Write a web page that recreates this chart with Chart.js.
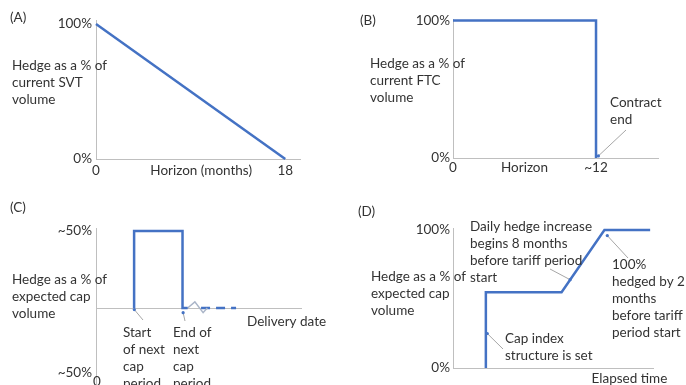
<!DOCTYPE html>
<html><head><meta charset="utf-8">
<script src="https://cdn.jsdelivr.net/npm/chart.js@4.4.1/dist/chart.umd.min.js"></script>
<style>
html,body{margin:0;padding:0;background:#fff;overflow:hidden;width:686px;height:385px}
#wrap{position:relative;width:686px;height:385px;overflow:hidden}
canvas{position:absolute}
</style></head><body>
<div id="wrap">
<canvas id="cA" width="343" height="192" style="left:0;top:0"></canvas>
<canvas id="cB" width="343" height="192" style="left:343px;top:0"></canvas>
<canvas id="cC" width="343" height="213" style="left:0;top:192px"></canvas>
<canvas id="cD" width="343" height="193" style="left:343px;top:192px"></canvas>
</div>
<script>
// ---------- data ----------
// (A) SVT hedge run-off
const aX = [0, 18];
const aY = [100, 0];
const aXTicks = [0, 10, 18];
const aXLabels = ['0', 'Horizon (months)', '18'];
const aYTicks = [0, 100];
const aYLabels = ['0%', '100%'];

// (B) FTC hedge
const bX = [0, 12, 12];
const bY = [100, 100, 0];
const bXTicks = [0, 6, 12];
const bXLabels = ['0', 'Horizon', '~12'];
const bYTicks = [0, 100];
const bYLabels = ['0%', '100%'];

// (C) cap period hedge
const cX = [18.5, 18.5, 42, 42, 44.5];
const cY = [0, 50, 50, 0, 0];
const cBreakX = [44.5, 48, 52, 54];
const cBreakY = [0, 4, -3, 0];
const cTailX = [51, 68];
const cTailY = [0, 0];
const cYTicks = [50, 0, -42];
const cYLabels = ['~50%', '', '~50%'];

// (D) cap hedge build-up
const dX = [4.6, 4.6, 15.2, 21.2, 27.6];
const dY = [0, 55, 55, 100, 100];
const dXTicks = [24.7];
const dXLabels = ['Elapsed time'];
const dYTicks = [0, 100];
const dYLabels = ['0%', '100%'];

// ---------- styling ----------
const BLUE = '#4472c4';
const GRAY = '#bfbfbf';
const TXT = '#333333';
const FAM = 'Lato, "Open Sans", sans-serif';
const FSIZE = 13.5;
const FONT = {family: FAM, size: FSIZE};

const pts = (xs, ys) => xs.map((x, i) => ({x: x, y: ys[i]}));

const notesPlugin = {
  id: 'notes',
  afterDraw(chart, args, opts) {
    const ctx = chart.ctx;
    const xs = chart.scales.x, ys = chart.scales.y;
    ctx.save();
    (opts.leaders || []).forEach(l => {
      const tx = xs.getPixelForValue(l.to[0]);
      const ty = ys.getPixelForValue(l.to[1]);
      ctx.strokeStyle = '#a6a6a6';
      ctx.lineWidth = 1;
      ctx.beginPath();
      ctx.moveTo(l.from[0], l.from[1]);
      ctx.lineTo(tx, ty);
      ctx.stroke();
      ctx.fillStyle = BLUE;
      ctx.beginPath();
      ctx.arc(tx, ty, 1.6, 0, Math.PI * 2);
      ctx.fill();
    });
    ctx.font = FSIZE + 'px ' + FAM;
    ctx.fillStyle = TXT;
    ctx.textBaseline = 'middle';
    (opts.texts || []).forEach(t => {
      ctx.textAlign = t.align || 'left';
      t.lines.forEach((s, i) => ctx.fillText(s, t.x, t.y + i * 17));
    });
    ctx.restore();
  }
};

function axis(cfg) {
  return {
    type: 'linear',
    display: cfg.display !== false,
    min: cfg.min, max: cfg.max,
    afterFit: s => { if (cfg.width != null) s.width = cfg.width; if (cfg.height != null) s.height = cfg.height; },
    afterBuildTicks: s => { s.ticks = cfg.ticks.map(v => ({value: v})); },
    ticks: {
      autoSkip: false, maxRotation: 0, minRotation: 0,
      padding: cfg.pad || 4, color: TXT, font: FONT,
      callback: v => { const i = cfg.ticks.indexOf(v); return i < 0 ? '' : cfg.labels[i]; }
    },
    grid: cfg.grid || {display: false, drawTicks: false},
    border: {display: cfg.border !== false, color: GRAY, width: 1}
  };
}

function line(data, extra) {
  return Object.assign({data: data, borderColor: BLUE, borderWidth: 2.5, pointRadius: 0,
    tension: 0, fill: false, clip: false, borderJoinStyle: 'miter'}, extra || {});
}

function make(id, datasets, scales, padding, notes) {
  return new Chart(document.getElementById(id), {
    type: 'line',
    data: {datasets: datasets},
    options: {
      responsive: false, animation: false, events: [],
      layout: {padding: padding},
      scales: scales,
      plugins: {legend: {display: false}, tooltip: {enabled: false}, notes: notes}
    },
    plugins: [notesPlugin]
  });
}

// (A)
make('cA', [line(pts(aX, aY))], {
  x: axis({min: 0, max: 19.4, ticks: aXTicks, labels: aXLabels, height: 33, pad: 4}),
  y: axis({min: 0, max: 103, ticks: aYTicks, labels: aYLabels, width: 96, pad: 4})
}, {left: 0, top: 20, right: 43, bottom: 0}, {
  texts: [
    {lines: ['(A)'], x: 10, y: 18},
    {lines: ['Hedge as a % of', 'current SVT', 'volume'], x: 12, y: 66}
  ]
});

// (B)
make('cB', [line(pts(bX, bY))], {
  x: axis({min: 0, max: 17.2, ticks: bXTicks, labels: bXLabels, height: 34, pad: 2}),
  y: axis({min: 0, max: 101, ticks: bYTicks, labels: bYLabels, width: 110, pad: 3})
}, {left: 0, top: 19, right: 28, bottom: 0}, {
  texts: [
    {lines: ['(B)'], x: 17, y: 21},
    {lines: ['Hedge as a % of', 'current FTC', 'volume'], x: 27, y: 64},
    {lines: ['Contract', 'end'], x: 267, y: 103}
  ],
  leaders: [{from: [283, 130], to: [12.2, 1.5]}]
});

// (C)
make('cC', [
  line(pts(cX, cY)),
  line(pts(cBreakX, cBreakY), {borderColor: '#aab5c8', borderWidth: 1.5}),
  line(pts(cTailX, cTailY), {borderDash: [9, 6], borderCapStyle: 'butt'})
], {
  x: axis({display: false, min: 0, max: 100, ticks: [], labels: []}),
  y: axis({min: -50, max: 52, ticks: cYTicks, labels: cYLabels, width: 96, pad: 4,
    grid: {display: true, drawTicks: false, lineWidth: 1,
      color: c => (c.tick && c.tick.value === 0) ? GRAY : 'rgba(0,0,0,0)'}})
}, {left: 0, top: 36, right: 41, bottom: 20}, {
  texts: [
    {lines: ['(C)'], x: 10, y: 16},
    {lines: ['Hedge as a % of', 'expected cap', 'volume'], x: 12, y: 88},
    {lines: ['Delivery date'], x: 247, y: 130},
    {lines: ['Start', 'of next', 'cap', 'period'], x: 123, y: 141},
    {lines: ['End of', 'next', 'cap', 'period'], x: 173, y: 141},
    {lines: ['0'], x: 97, y: 190, align: 'center'}
  ],
  leaders: [
    {from: [143, 128], to: [18.6, -1]},
    {from: [185, 129], to: [42.3, -3]}
  ]
});

// (D)
make('cD', [line(pts(dX, dY))], {
  x: axis({min: 0, max: 28, ticks: dXTicks, labels: dXLabels, height: 17, pad: 3}),
  y: axis({min: 0, max: 101.5, ticks: dYTicks, labels: dYLabels, width: 110, pad: 3})
}, {left: 0, top: 36, right: 33, bottom: 0}, {
  texts: [
    {lines: ['(D)'], x: 15, y: 20},
    {lines: ['Hedge as a % of', 'expected cap', 'volume'], x: 28, y: 85},
    {lines: ['Daily hedge increase', 'begins 8 months', 'before tariff period', 'start'], x: 127, y: 35},
    {lines: ['100%', 'hedged by 2', 'months', 'before tariff', 'period start'], x: 269, y: 73},
    {lines: ['Cap index', 'structure is set'], x: 162, y: 147}
  ],
  leaders: [
    {from: [207, 77], to: [16.4, 64]},
    {from: [285, 66], to: [21.6, 96]},
    {from: [160, 157], to: [4.8, 25]}
  ]
});
</script>
</body></html>
